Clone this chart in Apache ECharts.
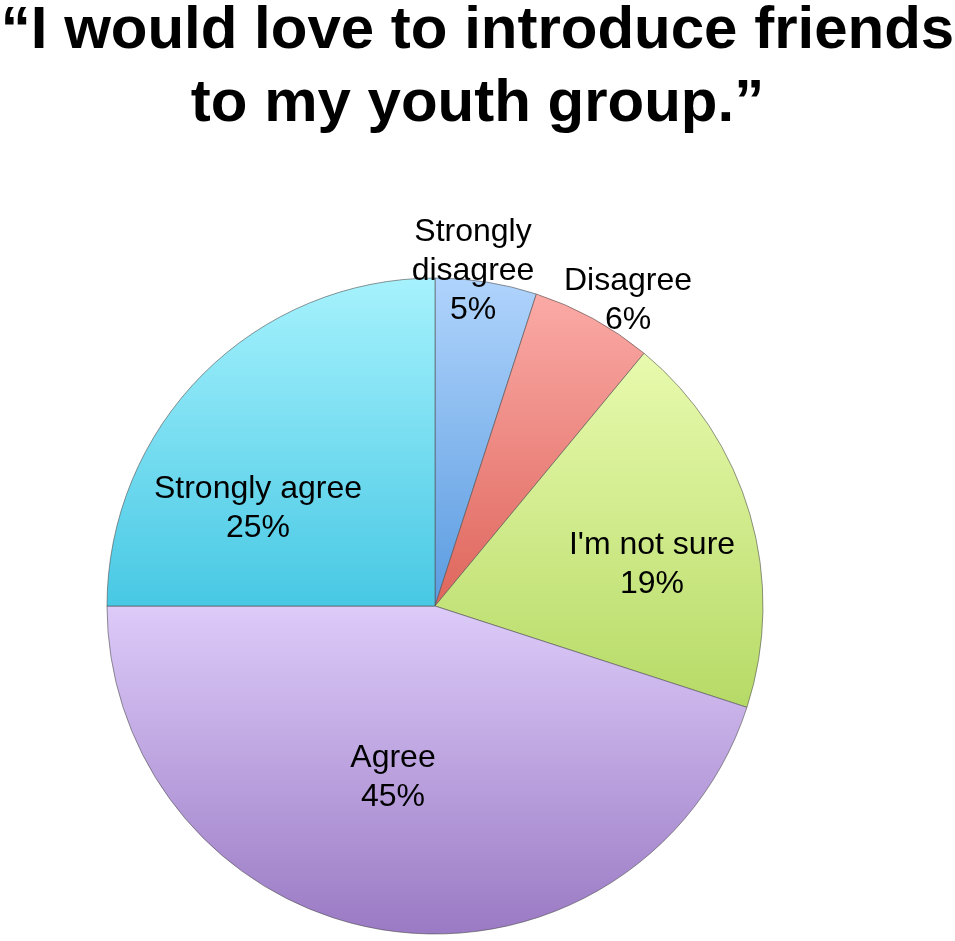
<!DOCTYPE html>
<html>
<head>
<meta charset="utf-8">
<script src="https://cdn.jsdelivr.net/npm/echarts@6/dist/echarts.min.js"></script>
<style>
html,body{margin:0;padding:0;background:#fff;}
#chart{width:955px;height:941px;}
</style>
</head>
<body>
<div id="chart"></div>
<script>
// ---- data ----
const titleLines = ['“I would love to introduce friends', 'to my youth group.”'];
const categories = ['Strongly disagree', 'Disagree', "I'm not sure", 'Agree', 'Strongly agree'];
const values = [5, 6, 19, 45, 25];

// ---- style ----
const gradients = [
  ['#b0d4fc', '#5a9be0'],
  ['#fbaaa6', '#de665c'],
  ['#e8faae', '#b6da66'],
  ['#ddcbf9', '#9a7ac4'],
  ['#a6f2fd', '#48c8e4']
];
const CX = 435, CY = 606, R = 328;
// label block centers relative to pie center (pixels)
const labelOffsets = [[38, -335], [193, -305], [217, -41], [-42, 172], [-177, -97]];

const chart = echarts.init(document.getElementById('chart'));
const data = categories.map((c, i) => ({
  name: c,
  value: values[i],
  itemStyle: {
    color: new echarts.graphic.LinearGradient(0, 0, 0, 1, [
      {offset: 0, color: gradients[i][0]},
      {offset: 1, color: gradients[i][1]}
    ])
  }
}));

chart.setOption({
  animation: false,
  backgroundColor: '#ffffff',
  title: {
    text: titleLines.join('\n'),
    left: 'center',
    top: -10,
    textStyle: {
      fontFamily: 'Liberation Sans, Arial, sans-serif',
      fontWeight: 'bold',
      fontSize: 60,
      lineHeight: 73,
      color: '#000'
    }
  },
  series: [{
    type: 'pie',
    center: [CX, CY],
    radius: [0, R],
    startAngle: 90,
    clockwise: true,
    percentPrecision: 0,
    data: data,
    itemStyle: {
      borderColor: 'rgba(80,80,80,0.6)',
      borderWidth: 1
    },
    label: {
      show: true,
      position: 'inside',
      color: '#000',
      fontFamily: 'Liberation Sans, Arial, sans-serif',
      fontSize: 32,
      lineHeight: 39,
      align: 'center',
      formatter: p => (p.name === 'Strongly disagree' ? 'Strongly\ndisagree' : p.name) + '\n' + p.percent + '%'
    },
    labelLine: {show: false},
    labelLayout: p => ({
      x: CX + labelOffsets[p.dataIndex][0],
      y: CY + labelOffsets[p.dataIndex][1],
      align: 'center',
      verticalAlign: 'middle'
    }),
    emphasis: {disabled: true}
  }]
});
</script>
</body>
</html>
